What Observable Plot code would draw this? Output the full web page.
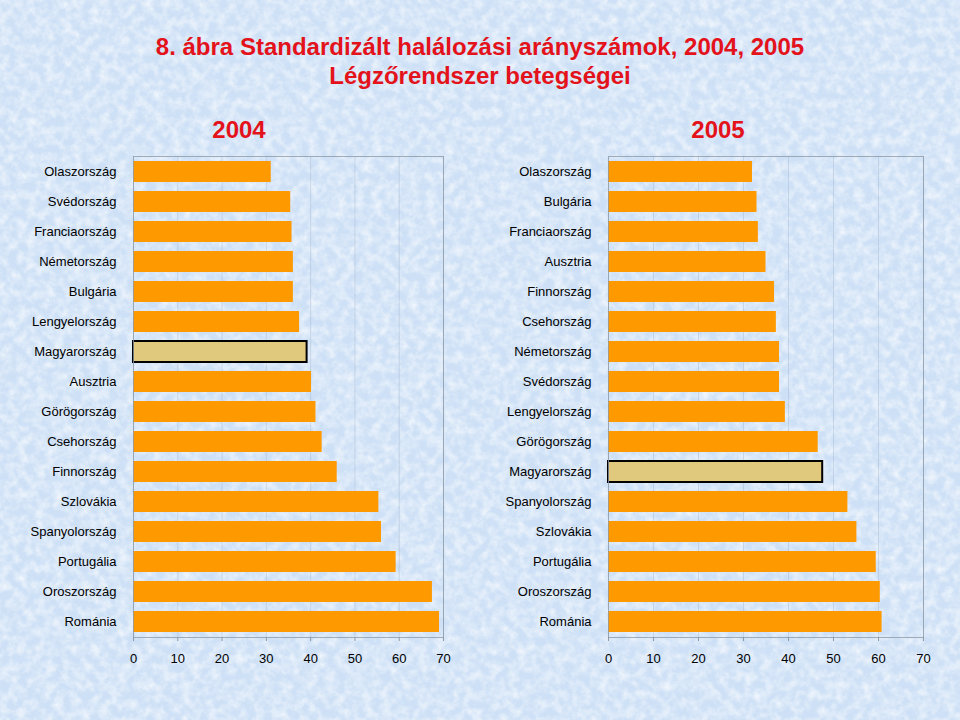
<!DOCTYPE html>
<html>
<head>
<meta charset="utf-8">
<script src="https://cdn.jsdelivr.net/npm/d3@7"></script>
<script src="https://cdn.jsdelivr.net/npm/@observablehq/plot@0.6"></script>
<style>
  html, body { margin: 0; padding: 0; }
  body { width: 960px; height: 720px; position: relative; overflow: hidden; background: #d4e5f8; font-family: "Liberation Sans", Arial, sans-serif; }
  #bg { position: absolute; left: 0; top: 0; }
  .title { position: absolute; left: 0; width: 960px; text-align: center; color: #e3121b; font-weight: bold; font-size: 24px; white-space: nowrap; }
  .year { position: absolute; color: #e3121b; font-weight: bold; font-size: 24px; width: 100px; text-align: center; }
  .panel { position: absolute; }
  .panel svg { display: block; }
</style>
</head>
<body>
<svg id="bg" width="960" height="720">
  <defs>
    <filter id="clouds" x="0" y="0" width="100%" height="100%">
      <feTurbulence type="fractalNoise" baseFrequency="0.11" numOctaves="4" seed="7" result="n"/>
      <feColorMatrix type="matrix" values="0 0 0 0 1  0 0 0 0 1  0 0 0 0 1  1.2 0 0 0 -0.4"/>
    </filter>
  </defs>
  <rect width="960" height="720" fill="#cde0f6"/>
  <rect width="960" height="720" filter="url(#clouds)"/>
</svg>
<div class="title" style="top:33px">8. ábra Standardizált halálozási arányszámok, 2004, 2005</div>
<div class="title" style="top:62px">Légzőrendszer betegségei</div>
<div class="year" style="left:189px; top:116px">2004</div>
<div class="year" style="left:668px; top:116px">2005</div>
<div class="panel" id="p2004" style="left:0px; top:150px"></div>
<div class="panel" id="p2005" style="left:475px; top:150px"></div>
<script>
// 2004
const countries2004 = ["Olaszország","Svédország","Franciaország","Németország","Bulgária","Lengyelország","Magyarország","Ausztria","Görögország","Csehország","Finnország","Szlovákia","Spanyolország","Portugália","Oroszország","Románia"];
const values2004 = [31.1, 35.5, 35.8, 36.1, 36.1, 37.5, 39.2, 40.2, 41.2, 42.6, 46.0, 55.4, 56.0, 59.3, 67.5, 69.1];
// 2005
const countries2005 = ["Olaszország","Bulgária","Franciaország","Ausztria","Finnország","Csehország","Németország","Svédország","Lengyelország","Görögország","Magyarország","Spanyolország","Szlovákia","Portugália","Oroszország","Románia"];
const values2005 = [32.0, 33.0, 33.3, 35.0, 36.9, 37.3, 38.0, 38.0, 39.3, 46.6, 47.6, 53.2, 55.2, 59.5, 60.4, 60.8];
const xTicks = [0, 10, 20, 30, 40, 50, 60, 70];
const highlight = "Magyarország";

function panel(countries, values, width, marginRight) {
  const data = countries.map((c, i) => ({country: c, value: values[i]}));
  return Plot.plot({
    width, height: 530,
    marginLeft: 133, marginRight, marginTop: 6, marginBottom: 43,
    style: {background: "transparent", fontFamily: "'Liberation Sans', Arial, sans-serif", fontSize: "13px", color: "#000"},
    x: {domain: [0, 70], ticks: xTicks, label: null},
    y: {domain: countries, label: null, paddingInner: 0.3, paddingOuter: 0.15},
    marks: [
      Plot.gridX(xTicks, {stroke: "#9fb4cc", strokeOpacity: 0.4}),
      Plot.barX(data, {
        y: "country", x: "value",
        fill: d => d.country === highlight ? "#e0c97c" : "#ff9900",
        stroke: d => d.country === highlight ? "#000" : "none",
        strokeWidth: 2
      }),
      Plot.frame({stroke: "#8f9aa6", strokeOpacity: 0.8}),
      Plot.axisX({ticks: xTicks, tickSize: 4, tickPadding: 12, stroke: "#8f9aa6", fill: "#000", label: null, fontSize: 13}),
      Plot.axisY({tickSize: 0, tickPadding: 17, fill: "#000", label: null, fontSize: 13})
    ]
  });
}
document.getElementById("p2004").append(panel(countries2004, values2004, 470, 27));
document.getElementById("p2005").append(panel(countries2005, values2005, 485, 37));
</script>
</body>
</html>
